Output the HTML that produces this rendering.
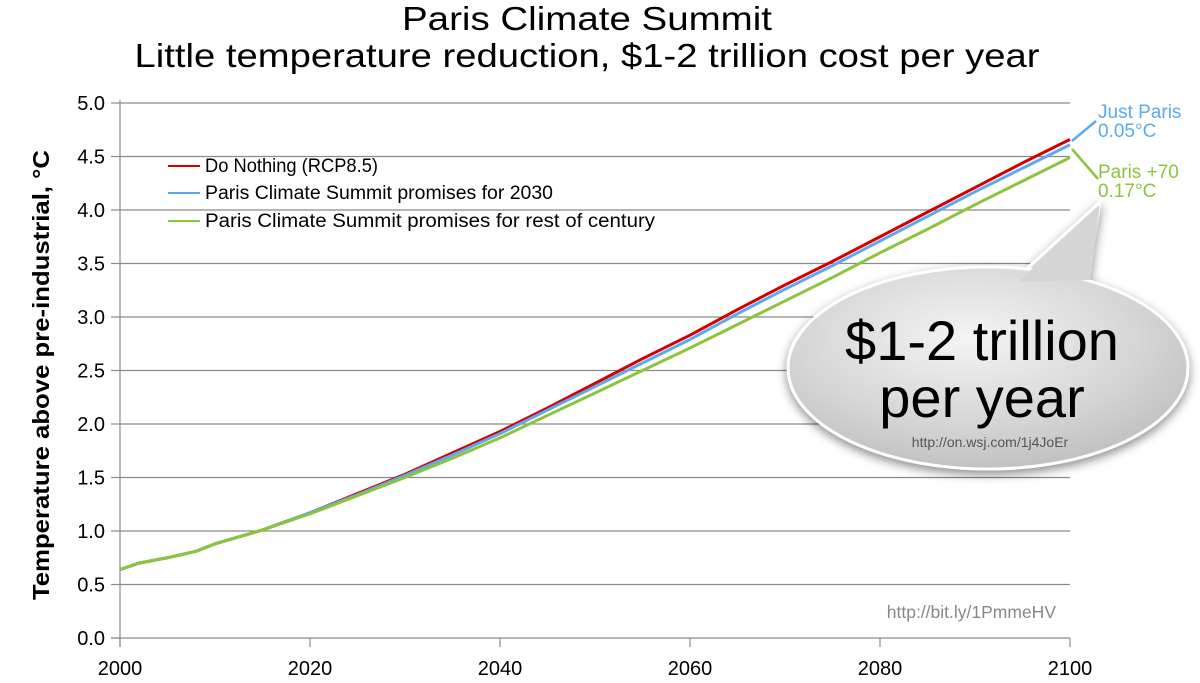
<!DOCTYPE html>
<html><head><meta charset="utf-8"><style>
body{margin:0;background:#fff;}
svg{display:block;font-family:"Liberation Sans",sans-serif;}
</style></head><body>
<svg id="chart" width="1200" height="683" viewBox="0 0 1200 683">
<defs>
<radialGradient id="bg" cx="0.45" cy="0.35" r="0.7">
<stop offset="0" stop-color="#f4f4f4"/><stop offset="0.6" stop-color="#d6d6d6"/><stop offset="1" stop-color="#bdbdbd"/>
</radialGradient>
<filter id="sh" x="-20%" y="-20%" width="140%" height="150%"><feDropShadow dx="0" dy="4" stdDeviation="5" flood-color="#000" flood-opacity="0.45"/></filter>
</defs>
<text x="587" y="30" font-size="33" text-anchor="middle" textLength="370" lengthAdjust="spacingAndGlyphs">Paris Climate Summit</text>
<text x="587" y="67" font-size="33" text-anchor="middle" textLength="905" lengthAdjust="spacingAndGlyphs">Little temperature reduction, $1-2 trillion cost per year</text>
<g id="grid"></g>
<g id="axes"></g>
<g id="series"></g>
<text transform="translate(49,375) rotate(-90)" font-size="23" font-weight="bold" text-anchor="middle" textLength="450" lengthAdjust="spacingAndGlyphs">Temperature above pre-industrial, °C</text>
<g font-size="19">
<line x1="168" y1="166" x2="200" y2="166" stroke="#d40000" stroke-width="2"/><text x="205" y="172" textLength="173" lengthAdjust="spacingAndGlyphs">Do Nothing (RCP8.5)</text>
<line x1="168" y1="193" x2="200" y2="193" stroke="#5aaaf0" stroke-width="2"/><text x="205" y="199" textLength="348" lengthAdjust="spacingAndGlyphs">Paris Climate Summit promises for 2030</text>
<line x1="168" y1="221" x2="200" y2="221" stroke="#8cc43c" stroke-width="2"/><text x="205" y="227" textLength="450" lengthAdjust="spacingAndGlyphs">Paris Climate Summit promises for rest of century</text>
</g>
<line x1="1072" y1="141" x2="1096" y2="121" stroke="#5aaaf0" stroke-width="2.5"/>
<line x1="1072" y1="149" x2="1098" y2="179" stroke="#8cc43c" stroke-width="2.5"/>
<text x="1098" y="118" font-size="19" fill="#5aaaf0">Just Paris</text>
<text x="1098" y="137" font-size="19" fill="#5aaaf0">0.05°C</text>
<text x="1098" y="178" font-size="19" fill="#8cc43c">Paris +70</text>
<text x="1098" y="197" font-size="19" fill="#8cc43c">0.17°C</text>
<g filter="url(#sh)">
<path d="M1020,275 L1100,202 L1088,275 Z" fill="#d8d8d8" stroke="#fff" stroke-width="3"/>
<ellipse cx="988" cy="368" rx="200" ry="101" fill="url(#bg)" stroke="#fff" stroke-width="3"/>
<path d="M1018,282 L1100,205 L1090,280 Z" fill="#d5d5d5"/>
</g>
<text x="982" y="360" font-size="56" text-anchor="middle">$1-2 trillion</text>
<text x="982" y="417" font-size="56" text-anchor="middle">per year</text>
<text x="990" y="447" font-size="14" fill="#555" text-anchor="middle">http://on.wsj.com/1j4JoEr</text>
<text x="1056" y="618" font-size="17.5" fill="#888" text-anchor="end">http://bit.ly/1PmmeHV</text>
</svg>
<script>
const years=[2000,2002,2005,2008,2010,2015,2020,2025,2030,2035,2040,2045,2050,2055,2060,2065,2070,2075,2080,2085,2090,2095,2100];
const doNothing=[0.64,0.70,0.75,0.81,0.88,1.01,1.17,1.35,1.53,1.73,1.93,2.15,2.38,2.61,2.83,3.07,3.30,3.52,3.75,3.98,4.21,4.44,4.66];
const paris2030=[0.64,0.70,0.75,0.81,0.88,1.01,1.17,1.34,1.52,1.71,1.91,2.13,2.35,2.57,2.79,3.03,3.26,3.48,3.71,3.94,4.17,4.39,4.61];
const parisCentury=[0.64,0.70,0.75,0.81,0.88,1.01,1.16,1.33,1.50,1.68,1.87,2.08,2.29,2.50,2.71,2.93,3.15,3.37,3.60,3.82,4.05,4.27,4.49];
const yTicks=[0,0.5,1,1.5,2,2.5,3,3.5,4,4.5,5];
const xTicks=[2000,2020,2040,2060,2080,2100];
const NS="http://www.w3.org/2000/svg";
const X=v=>120+(v-2000)*9.5;
const Y=v=>638-v*107;
function mk(tag,attrs,parent,text){const e=document.createElementNS(NS,tag);for(const k in attrs)e.setAttribute(k,attrs[k]);if(text!==undefined)e.textContent=text;parent.appendChild(e);return e;}
const grid=document.getElementById('grid'),axes=document.getElementById('axes'),ser=document.getElementById('series');
yTicks.forEach(t=>{
 if(t>0){const g=mk('line',{x1:120,x2:1070,y1:Y(t),y2:Y(t),stroke:'#8a8a8a','stroke-width':1.2},grid);
 
 }
 mk('line',{x1:111,x2:120,y1:Y(t),y2:Y(t),stroke:'#8a8a8a','stroke-width':1.2},axes);
 const l=mk('text',{x:105,y:Y(t)+7,'font-size':20,'text-anchor':'end'},axes,t.toFixed(1));
 
 
});
xTicks.forEach(t=>{
 mk('line',{x1:X(t),x2:X(t),y1:638,y2:647,stroke:'#8a8a8a','stroke-width':1.2},axes);
 const l=mk('text',{x:X(t),y:675,'font-size':20,'text-anchor':'middle'},axes,t);
 
 
});
mk('line',{x1:120,x2:120,y1:100,y2:647,stroke:'#8a8a8a','stroke-width':1.2},axes);
mk('line',{x1:111,x2:1070,y1:638,y2:638,stroke:'#8a8a8a','stroke-width':1.2},axes);
[[doNothing,'#d40000','do-nothing-line'],[paris2030,'#5aaaf0','paris-2030-line'],[parisCentury,'#8cc43c','paris-century-line']].forEach(([d,c,n])=>{
 const p=mk('polyline',{points:years.map((y,i)=>X(y)+','+Y(d[i])).join(' '),fill:'none',stroke:c,'stroke-width':3,'stroke-linejoin':'round'},ser);
 
 
});
</script>
</body></html>
